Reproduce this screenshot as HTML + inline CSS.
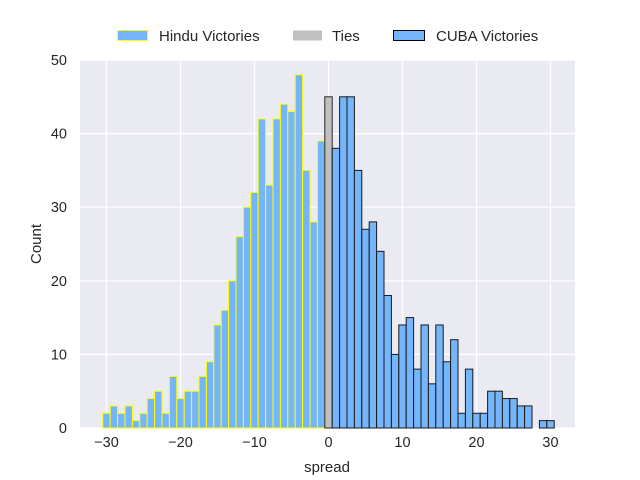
<!DOCTYPE html>
<html><head><meta charset="utf-8"><style>
body{margin:0;background:#fff;}
svg{display:block;font-family:"Liberation Sans",Arial,sans-serif;}
</style></head><body>
<svg id="c" width="640" height="480">
<rect x="80" y="60" width="495" height="368" fill="#eaeaf2"/>
<g id="grid"></g><g id="bars"></g><g id="ticks"></g>
<text x="327" y="472" font-size="15" text-anchor="middle" fill="#262626">spread</text>
<text x="41" y="244" font-size="15" text-anchor="middle" fill="#262626" transform="rotate(-90 41 244)">Count</text>
<g>
<g><rect x="117.5" y="30.5" width="30" height="10" fill="#74b5fb" stroke="#ffff00" stroke-width="1"/><text x="159" y="41" font-size="15" fill="#262626">Hindu Victories</text></g>
<g><rect x="293" y="30.5" width="29" height="10" fill="#c0c0c0"/><text x="332" y="41" font-size="15" fill="#262626">Ties</text></g>
<g><rect x="393.5" y="30.5" width="31" height="10" fill="#74b5fb" stroke="#000" stroke-width="1"/><text x="436" y="41" font-size="15" fill="#262626">CUBA Victories</text></g>
</g>
</svg>
<script>
const hinduBins=[-30,-29,-28,-27,-26,-25,-24,-23,-22,-21,-20,-19,-18,-17,-16,-15,-14,-13,-12,-11,-10,-9,-8,-7,-6,-5,-4,-3,-2,-1];
const hinduCounts=[2,3,2,3,1,2,4,5,2,7,4,5,5,7,9,14,16,20,26,30,32,42,33,42,44,43,48,35,28,39];
const tieBins=[0];
const tieCounts=[45];
const cubaBins=[1,2,3,4,5,6,7,8,9,10,11,12,13,14,15,16,17,18,19,20,21,22,23,24,25,26,27,28,29,30];
const cubaCounts=[38,45,45,35,27,28,24,18,10,14,15,8,14,6,14,9,12,2,8,2,2,5,5,4,4,3,3,0,1,1];
const xTicks=[-30,-20,-10,0,10,20,30];
const yTicks=[0,10,20,30,40,50];
const NS="http://www.w3.org/2000/svg";
const xs=v=>328.5+v*7.4;
const ys=v=>428-v*7.36;
const grid=document.getElementById('grid'),bars=document.getElementById('bars'),ticks=document.getElementById('ticks');
function mk(tag,attrs,parent){const e=document.createElementNS(NS,tag);for(const k in attrs)e.setAttribute(k,attrs[k]);parent.appendChild(e);return e;}
xTicks.forEach(t=>{
  const l=mk('line',{x1:xs(t),x2:xs(t),y1:60,y2:428,stroke:'#fff','stroke-width':1.2},grid);
  
  
  const tx=mk('text',{x:xs(t),y:447,'font-size':14.5,'text-anchor':'middle',fill:'#262626'},ticks);
  tx.textContent=t<0?'\u2212'+(-t):String(t);
  
  
});
yTicks.forEach(t=>{
  const l=mk('line',{x1:80,x2:575,y1:ys(t),y2:ys(t),stroke:'#fff','stroke-width':1.2},grid);
  
  
  const tx=mk('text',{x:67,y:ys(t)+5,'font-size':14.5,'text-anchor':'end',fill:'#262626'},ticks);
  tx.textContent=String(t);
  
  
});
function drawSeries(bins,counts,fill,stroke,name){
  bins.forEach((b,i)=>{
    if(!counts[i])return;
    const attrs={x:xs(b-0.5),y:ys(counts[i]),width:7.4,height:ys(0)-ys(counts[i]),fill:fill};
    if(stroke){attrs.stroke=stroke;attrs['stroke-width']=1;}
    const r=mk('rect',attrs,bars);
    
    
  });
}
drawSeries(hinduBins,hinduCounts,'#74b5fb','#ffff00','bar-hindu');
drawSeries(tieBins,tieCounts,'#c0c0c0','#262626','bar-tie');
drawSeries(cubaBins,cubaCounts,'#74b5fb','#1a1a1a','bar-cuba');
</script>
</body></html>
